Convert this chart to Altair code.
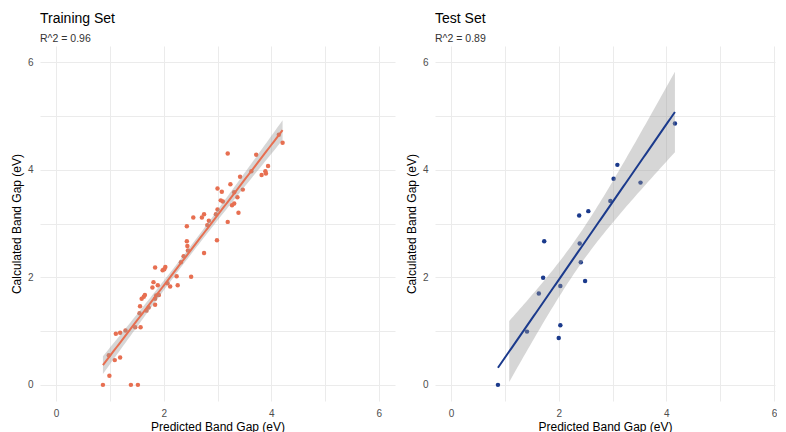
import altair as alt
import numpy as np
import pandas as pd

# ---------------- data ----------------
train_x = [3.19, 3.72, 4.14, 4.21, 3.94, 3.89, 3.90, 3.82, 3.63, 3.42, 3.24, 3.47, 3.00, 3.08,
           3.31, 3.06, 3.10, 3.37, 3.27, 3.31, 3.00, 2.97, 3.39, 2.75, 2.71, 2.55, 3.19, 2.84,
           2.81, 2.99, 2.75,
           2.43, 2.43, 2.44, 2.45, 2.51, 2.32, 2.37, 2.24, 2.26, 2.07, 2.12, 1.84, 1.98, 2.03,
           2.01, 1.79, 1.81, 1.89, 1.91, 1.84, 1.84, 1.86,
           1.55, 1.56, 1.59, 1.63, 1.65, 1.68, 1.72, 1.11, 1.19, 1.29, 1.47, 1.57, 1.09, 1.19,
           0.98, 0.87, 0.99, 1.39, 1.52]
train_y = [4.30, 4.28, 4.65, 4.50, 4.07, 3.97, 3.93, 3.90, 3.97, 3.87, 3.73, 3.63, 3.65, 3.59,
           3.58, 3.43, 3.41, 3.49, 3.34, 3.37, 3.26, 3.17, 3.20, 3.17, 3.11, 3.11, 3.03, 3.05,
           2.97, 2.69, 2.45,
           2.95, 2.67, 2.58, 2.50, 2.01, 2.28, 2.39, 2.02, 1.85, 1.89, 1.83, 2.18, 2.13, 2.19,
           2.15, 1.81, 1.91, 1.85, 1.67, 1.49, 1.60, 1.66,
           1.33, 1.46, 1.60, 1.64, 1.67, 1.38, 1.44, 0.95, 0.97, 1.01, 1.07, 1.07, 0.46, 0.51,
           0.55, 0.00, 0.17, 0.00, 0.00]

test_x = [0.87, 1.41, 1.63, 1.71, 1.73, 2.03, 2.03, 2.00, 2.38, 2.39, 2.41, 2.49, 2.55,
          2.96, 3.02, 3.09, 3.52, 4.16]
test_y = [0.00, 0.99, 1.70, 1.99, 2.67, 1.84, 1.11, 0.87, 3.15, 2.63, 2.28, 1.93, 3.23,
          3.42, 3.83, 4.09, 3.76, 4.86]

train_title, train_sub = "Training Set", "R^2 = 0.96"
test_title, test_sub = "Test Set", "R^2 = 0.89"
test_band_from = 1.08  # the shaded band of the test panel starts here

x_title = "Predicted Band Gap (eV)"
y_title = "Calculated Band Gap (eV)"
tick_values = [0, 1, 2, 3, 4, 5, 6]

TRAIN_COLOR = "#E76F51"
TEST_COLOR = "#1B3A8C"
FONT = "Liberation Sans"


def fit_band(x, y, lo, hi, n=80):
    """Least-squares line with 95% confidence band (like geom_smooth(method='lm'))."""
    x = np.asarray(x, float)
    y = np.asarray(y, float)
    b1, b0 = np.polyfit(x, y, 1)
    res = y - (b0 + b1 * x)
    df = len(x) - 2
    s = np.sqrt((res ** 2).sum() / df)
    xbar = x.mean()
    sxx = ((x - xbar) ** 2).sum()
    z = 1.959964
    t = z + (z ** 3 + z) / (4 * df) + (5 * z ** 5 + 16 * z ** 3 + 3 * z) / (96 * df ** 2)
    g = np.linspace(lo, hi, n)
    fit = b0 + b1 * g
    se = s * np.sqrt(1.0 / len(x) + (g - xbar) ** 2 / sxx)
    return pd.DataFrame({"x": g, "fit": fit, "lo": fit - t * se, "hi": fit + t * se})


def panel(x, y, color, title, sub, band_from, width, xmax):
    pts = pd.DataFrame({"x": x, "y": y})
    line_df = fit_band(x, y, min(x), max(x))
    band_df = fit_band(x, y, band_from, max(x))

    xs = alt.Scale(domain=[-0.3, xmax], nice=False, zero=False)
    ys = alt.Scale(domain=[-0.3, 6.3], nice=False, zero=False)
    xa = alt.Axis(title=x_title, values=tick_values, titlePadding=3,
                  labelExpr="datum.value % 2 == 0 ? datum.label : ''")
    ya = alt.Axis(title=y_title, values=tick_values, titlePadding=4,
                  labelExpr="datum.value % 2 == 0 ? datum.label : ''")

    points = alt.Chart(pts).mark_circle(size=20, opacity=1, color=color).encode(
        x=alt.X("x:Q", scale=xs, axis=xa),
        y=alt.Y("y:Q", scale=ys, axis=ya),
    )
    band = alt.Chart(band_df).mark_area(color="#999999", opacity=0.4).encode(
        x=alt.X("x:Q", scale=xs, axis=xa),
        y=alt.Y("lo:Q", scale=ys, axis=ya),
        y2="hi:Q",
    )
    line = alt.Chart(line_df).mark_line(color=color, strokeWidth=2).encode(
        x=alt.X("x:Q", scale=xs, axis=xa),
        y=alt.Y("fit:Q", scale=ys, axis=ya),
    )
    return alt.layer(points, band, line).properties(
        width=width,
        height=355,
        title=alt.TitleParams(
            text=title, subtitle=sub, anchor="start", frame="group",
            font=FONT, fontSize=14, fontWeight="normal", color="#000000",
            subtitleFont=FONT, subtitleFontSize=10.5, subtitleColor="#333333",
            subtitlePadding=8, offset=2,
        ),
    )


left = panel(train_x, train_y, TRAIN_COLOR, train_title, train_sub, min(train_x), 355, 6.3)
right = panel(test_x, test_y, TEST_COLOR, test_title, test_sub, test_band_from, 340, 6.02)

chart = alt.hconcat(left, right, spacing=10).properties(
    padding={"left": 2, "top": 3, "right": 0, "bottom": 0}
).configure_view(
    stroke=None
).configure_axis(
    domain=False, ticks=False, grid=True, gridColor="#EBEBEB", gridWidth=1,
    labelColor="#4D4D4D", labelFontSize=10, labelFont=FONT, labelPadding=7,
    titleColor="#000000", titleFontSize=12, titleFont=FONT, titleFontWeight="normal",
)

chart.save("out.html", embed_options={"renderer": "svg", "actions": False})
